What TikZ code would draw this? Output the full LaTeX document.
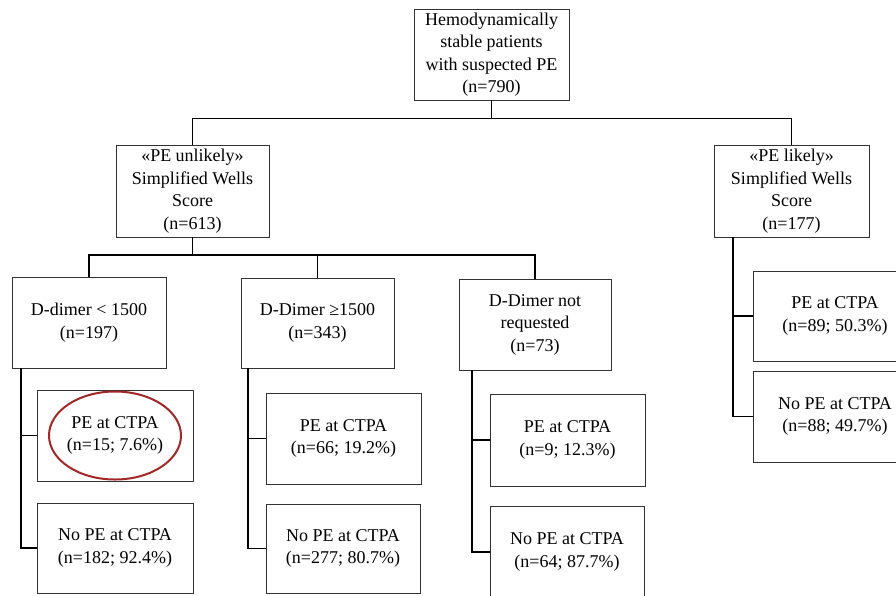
\documentclass[tikz,border=0pt]{standalone}
\usepackage{fontspec}
\setmainfont{Liberation Serif}
\usetikzlibrary{calc}
\definecolor{ovalred}{RGB}{160,40,40}
\definecolor{boxline}{RGB}{50,50,50}
\begin{document}
\begin{tikzpicture}[x=1pt,y=-1pt,
  box/.style={draw=boxline,line width=0.8pt,align=center,inner sep=0pt,
    font=\fontsize{18}{22.5}\selectfont},
  conn/.style={draw=black,line width=1.4pt}]
\useasboundingbox (0,0) rectangle (896,595);
\clip (0,0) rectangle (896,595);
\fill[white] (0,0) rectangle (896,595);
% level 0
\node[box,minimum width=155pt,minimum height=91pt] (top) at (491.5,54.5)
  {Hemodynamically\\stable patients\\with suspected PE\\(n=790)};
% level 1
\node[box,minimum width=153pt,minimum height=92pt] (unl) at (192.5,191)
  {«PE unlikely»\\Simplified Wells\\Score\\(n=613)};
\node[box,minimum width=155pt,minimum height=92pt] (lik) at (791.5,191)
  {«PE likely»\\Simplified Wells\\Score\\(n=177)};
% level 2
\node[box,minimum width=154pt,minimum height=91pt] (dlow) at (89,322.5)
  {D-dimer < 1500\\(n=197)};
\node[box,minimum width=153pt,minimum height=90pt] (dhigh) at (317.5,323)
  {D-Dimer ≥1500\\(n=343)};
\node[box,minimum width=152pt,minimum height=91pt] (dnr) at (535,324.5)
  {D-Dimer not\\requested\\(n=73)};
% level 3
\node[box,minimum width=156pt,minimum height=91pt] (pe1) at (115,435.5)
  {PE at CTPA\\(n=15; 7.6\%)};
\node[box,minimum width=156pt,minimum height=90pt] (no1) at (115,548)
  {No PE at CTPA\\(n=182; 92.4\%)};
\node[box,minimum width=155pt,minimum height=91pt] (pe2) at (343.5,438.5)
  {PE at CTPA\\(n=66; 19.2\%)};
\node[box,minimum width=154pt,minimum height=89pt] (no2) at (343,548.5)
  {No PE at CTPA\\(n=277; 80.7\%)};
\node[box,minimum width=155pt,minimum height=92pt] (pe3) at (567.5,440)
  {PE at CTPA\\(n=9; 12.3\%)};
\node[box,minimum width=154pt,minimum height=92pt] (no3) at (567,552)
  {No PE at CTPA\\(n=64; 87.7\%)};
\node[box,minimum width=164pt,minimum height=90pt] (pe4) at (835,316)
  {PE at CTPA\\(n=89; 50.3\%)};
\node[box,minimum width=164pt,minimum height=91pt] (no4) at (835,416.5)
  {No PE at CTPA\\(n=88; 49.7\%)};
% highlight oval
\draw[ovalred,line width=2pt] (pe1.center) ellipse [x radius=66pt,y radius=44pt];
% connectors level 0 -> 1
\coordinate (h0) at (491.5,118.5);
\draw[conn] (top.south) -- (h0);
\draw[conn] (unl.north) |- (h0);
\draw[conn] (lik.north) |- (h0);
% connectors level 1 -> 2
\coordinate (h1) at (192.5,255);
\draw[conn] (unl.south) -- (h1);
\draw[conn] (dlow.north) |- (h1);
\draw[conn] (dhigh.north) |- (h1);
\draw[conn] (dnr.north) |- (h1);
% branches level 2 -> 3
\coordinate (b1) at (21,368);
\draw[conn] (b1) |- (no1.west);
\draw[conn] (b1 |- pe1.west) -- (pe1.west);
\coordinate (b2) at (248,368);
\draw[conn] (b2) |- (no2.west);
\draw[conn] (b2 |- pe2.west) -- (pe2.west);
\coordinate (b3) at (472,370);
\draw[conn] (b3) |- (no3.west);
\draw[conn] (b3 |- pe3.west) -- (pe3.west);
\coordinate (b4) at (733,237);
\draw[conn] (b4) |- (no4.west);
\draw[conn] (b4 |- pe4.west) -- (pe4.west);
\end{tikzpicture}
\end{document}
